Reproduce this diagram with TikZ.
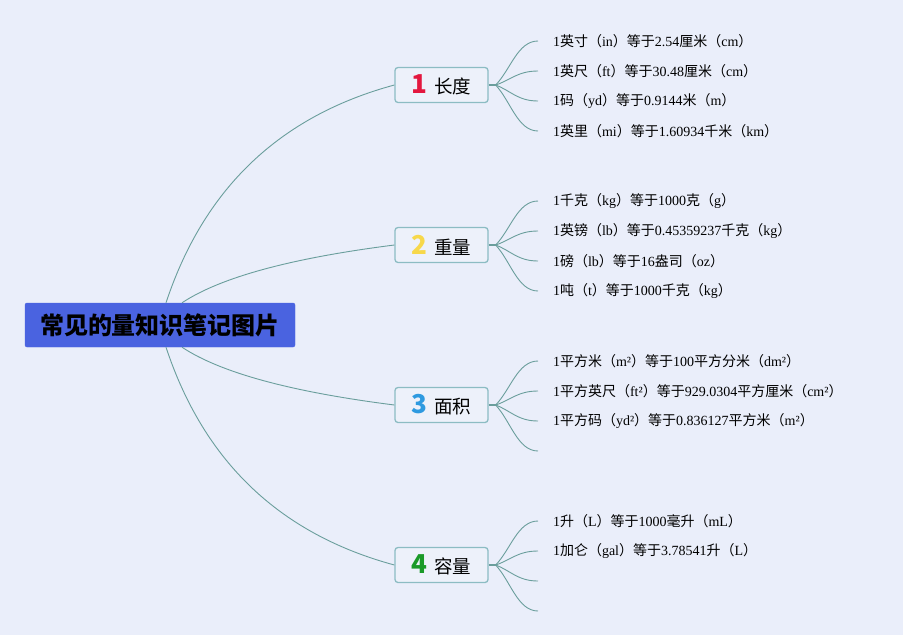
\documentclass[tikz,border=0pt]{standalone}
\usepackage{fontspec}
\setmainfont{Liberation Serif}
\newfontfamily\cjk{Noto Sans CJK SC}
\newcommand\C[1]{{\cjk #1}}
\usetikzlibrary{calc}
\definecolor{bg}{HTML}{EAEEFA}
\definecolor{rootblue}{HTML}{4A63E0}
\definecolor{boxline}{HTML}{8CBCC3}
\definecolor{boxfill}{HTML}{EDF1FA}
\definecolor{conn}{HTML}{6A9E9C}
\definecolor{numA}{HTML}{E3173E}
\definecolor{numB}{HTML}{F7D84A}
\definecolor{numC}{HTML}{2E9AE0}
\definecolor{numD}{HTML}{1A9A28}
\tikzset{
  rootbox/.style={draw=rootblue, fill=rootblue, rounded corners=2pt, minimum width=270pt, minimum height=44pt, inner sep=0pt,
    font=\cjk\bfseries\fontsize{24}{24}\selectfont, text=black},
  branchbox/.style={draw=boxline, fill=boxfill, line width=1.3pt, rounded corners=3pt, minimum width=93pt, minimum height=35pt, inner sep=0pt},
  leaf/.style={anchor=west, inner sep=0pt, outer xsep=15pt, font=\fontsize{14}{14}\selectfont},
  conline/.style={draw=conn, line width=0.9pt},
  stub/.style={draw=conn, line width=2.6pt},
}
\newcommand\brtext[2]{{\cjk\bfseries\fontsize{26}{26}\selectfont\color{#1}#2}}
\newcommand\brlab[1]{\hspace{7pt}{\cjk\fontsize{18.5}{18.5}\selectfont #1}}
\begin{document}
\begin{tikzpicture}[x=1pt,y=-1pt]
\fill[bg] (0,0) rectangle (903,635);
\useasboundingbox (0,0) rectangle (903,635);

% branch boxes
\node[branchbox] (b1) at (441.5,85) {\brtext{numA}{1}\brlab{长度}};
\node[branchbox] (b2) at (441.5,245) {\brtext{numB}{2}\brlab{重量}};
\node[branchbox] (b3) at (441.5,405) {\brtext{numC}{3}\brlab{面积}};
\node[branchbox] (b4) at (441.5,565) {\brtext{numD}{4}\brlab{容量}};

% root
\node[rootbox] (root) at (160,325) {常见的量知识笔记图片};

% root connectors
\draw[conline] ($(root.north)+(6,0)$) .. controls (204,188) and (280,116) .. (b1.west);
\draw[conline] ($(root.north)+(22,0)$) .. controls (221,277) and (292,258) .. (b2.west);
\draw[conline] ($(root.south)+(22,0)$) .. controls (221,373) and (292,392) .. (b3.west);
\draw[conline] ($(root.south)+(6,0)$) .. controls (204,462) and (280,534) .. (b4.west);

% hubs
\foreach \i in {1,2,3,4}{
  \coordinate (h\i) at ($(b\i.east)+(7,0)$);
  \draw[stub] (b\i.east) -- (h\i);
}

% leaves: length
\node[leaf] (l1) at (538,41) {1\C{英寸（}in\C{）等于}2.54\C{厘米（}cm\C{）}};
\node[leaf] (l2) at (538,71) {1\C{英尺（}ft\C{）等于}30.48\C{厘米（}cm\C{）}};
\node[leaf] (l3) at (538,101) {1\C{码（}yd\C{）等于}0.9144\C{米（}m\C{）}};
\node[leaf] (l4) at (538,131) {1\C{英里（}mi\C{）等于}1.60934\C{千米（}km\C{）}};
% weight
\node[leaf] (w1) at (538,201) {1\C{千克（}kg\C{）等于}1000\C{克（}g\C{）}};
\node[leaf] (w2) at (538,231) {1\C{英镑（}lb\C{）等于}0.45359237\C{千克（}kg\C{）}};
\node[leaf] (w3) at (538,261) {1\C{磅（}lb\C{）等于}16\C{盎司（}oz\C{）}};
\node[leaf] (w4) at (538,291) {1\C{吨（}t\C{）等于}1000\C{千克（}kg\C{）}};
% area
\node[leaf] (a1) at (538,361) {1\C{平方米（}m²\C{）等于}100\C{平方分米（}dm²\C{）}};
\node[leaf] (a2) at (538,391) {1\C{平方英尺（}ft²\C{）等于}929.0304\C{平方厘米（}cm²\C{）}};
\node[leaf] (a3) at (538,421) {1\C{平方码（}yd²\C{）等于}0.836127\C{平方米（}m²\C{）}};
\coordinate (a4) at (538,451);
% volume
\node[leaf] (v1) at (538,521) {1\C{升（}L\C{）等于}1000\C{毫升（}mL\C{）}};
\node[leaf] (v2) at (538,551) {1\C{加仑（}gal\C{）等于}3.78541\C{升（}L\C{）}};
\coordinate (v3) at (538,581);
\coordinate (v4) at (538,611);

% leaf connectors
\foreach \h/\t in {h1/l1.west,h1/l2.west,h1/l3.west,h1/l4.west,
                   h2/w1.west,h2/w2.west,h2/w3.west,h2/w4.west,
                   h3/a1.west,h3/a2.west,h3/a3.west,h3/a4,
                   h4/v1.west,h4/v2.west,h4/v3,h4/v4}{
  \draw[conline] let \p1=(\h), \p2=(\t) in
    (\p1) .. controls ({\x1+15pt},{\y1+0.35*(\y2-\y1)}) and ({\x1+22pt},\y2) .. (\p2);
}
\end{tikzpicture}
\end{document}
